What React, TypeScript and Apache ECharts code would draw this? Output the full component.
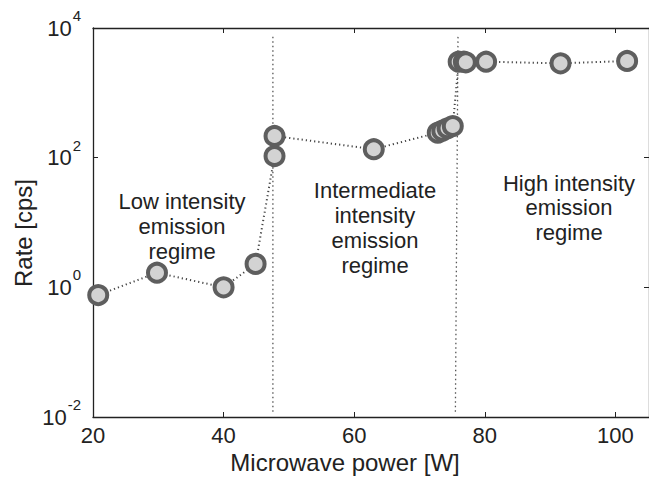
import React, { useEffect, useRef } from "react";
import * as echarts from "echarts";

// Microwave power [W] and count rate [cps]
const powerW = [20.8, 29.8, 40.0, 44.9, 47.8, 47.8, 63.0, 72.8, 73.5, 74.3, 75.1, 76.0, 76.8, 77.1, 80.2, 91.6, 101.8];
const rateCps = [0.76, 1.68, 1.0, 2.3, 106, 216, 135, 243, 261, 284, 308, 3020, 3020, 2960, 3020, 2850, 3100];

// regime boundaries (dotted vertical lines)
const boundary1X = [47.55, 47.55];
const boundary2X = [75.5, 75.9];
const boundaryY = [0.012, 8000];

const xTicks = [20, 40, 60, 80, 100];
const yTickExponents = [-2, 0, 2, 4];

const regimeLabels = [
  "Low intensity\nemission\nregime",
  "Intermediate\nintensity\nemission\nregime",
  "High intensity\nemission\nregime",
];

const FONT = "'Liberation Sans', Arial, Helvetica, sans-serif";

export default function App() {
  const ref = useRef<HTMLDivElement>(null);
  useEffect(() => {
    if (!ref.current) return;
    const chart = echarts.init(ref.current, null, { renderer: "svg" });
    const xMin = xTicks[0];
    const xMax = 105.15;
    const yMin = Math.pow(10, yTickExponents[0]);
    const yMax = Math.pow(10, yTickExponents[yTickExponents.length - 1]);
    const textColor = "#222";
    const axisCommon = {
      axisLine: { show: true, lineStyle: { color: "#222", width: 1.3 } },
      axisTick: { show: true, inside: true, length: 5, lineStyle: { color: "#222", width: 1 } },
      splitLine: { show: false },
      minorTick: { show: false },
    };
    const yFormatter = (v: number) => {
      const e = Math.round(Math.log10(v));
      return `{b|10}{s|${e}}`;
    };
    chart.setOption({
      animation: false,
      grid: { left: 93, right: -1, top: 28, bottom: 60 },
      xAxis: [
        {
          type: "value",
          min: xMin,
          max: xMax,
          interval: 20,
          position: "bottom",
          ...axisCommon,
          axisLabel: {
            show: true,
            margin: 7,
            color: textColor,
            fontFamily: FONT,
            fontSize: 22,
            showMaxLabel: false,
          },
        },
        {
          type: "value",
          min: xMin,
          max: xMax,
          interval: 20,
          position: "top",
          ...axisCommon,
          axisLabel: { show: false },
        },
      ],
      yAxis: [
        {
          type: "log",
          logBase: 10,
          min: yMin,
          max: yMax,
          interval: 2,
          position: "left",
          ...axisCommon,
          axisLabel: {
            show: true,
            margin: 12,
            color: textColor,
            fontFamily: FONT,
            formatter: yFormatter,
            rich: {
              b: { fontSize: 22, fontFamily: FONT, color: textColor, verticalAlign: "bottom", padding: [9, 0, 0, 0] },
              s: { fontSize: 15, fontFamily: FONT, color: textColor, verticalAlign: "top", padding: [0, 0, 0, 1] },
            },
            padding: [0, 0, 9, 0],
          },
        },
        {
          type: "log",
          logBase: 10,
          min: yMin,
          max: yMax,
          interval: 2,
          position: "right",
          ...axisCommon,
          axisLabel: { show: false },
        },
      ],
      series: [
        {
          type: "line",
          data: boundary1X.map((x, i) => [x, boundaryY[i]]),
          symbol: "none",
          lineStyle: { color: "#555", width: 1.3, type: [1.5, 3] },
          silent: true,
          z: 1,
        },
        {
          type: "line",
          data: boundary2X.map((x, i) => [x, boundaryY[i]]),
          symbol: "none",
          lineStyle: { color: "#555", width: 1.3, type: [1.5, 3] },
          silent: true,
          z: 1,
        },
        {
          type: "line",
          data: powerW.map((x, i) => [x, rateCps[i]]),
          symbol: "circle",
          symbolSize: 18,
          itemStyle: { color: "#d3d3d3", borderColor: "#5e5e5e", borderWidth: 4 },
          lineStyle: { color: "#444", width: 2, type: [1.2, 3] },
          z: 3,
        },
      ],
      graphic: [
        {
          type: "text",
          x: 182,
          y: 189,
          style: {
            text: regimeLabels[0],
            fontFamily: FONT,
            fontSize: 22,
            lineHeight: 25,
            fill: textColor,
            align: "center",
            verticalAlign: "top",
          },
        },
        {
          type: "text",
          x: 375,
          y: 178,
          style: {
            text: regimeLabels[1],
            fontFamily: FONT,
            fontSize: 22,
            lineHeight: 25,
            fill: textColor,
            align: "center",
            verticalAlign: "top",
          },
        },
        {
          type: "text",
          x: 569,
          y: 171,
          style: {
            text: regimeLabels[2],
            fontFamily: FONT,
            fontSize: 22,
            lineHeight: 24.5,
            fill: textColor,
            align: "center",
            verticalAlign: "top",
          },
        },
        {
          type: "text",
          x: 345,
          y: 462,
          style: {
            text: "Microwave power [W]",
            fontFamily: FONT,
            fontSize: 24,
            fill: textColor,
            align: "center",
            verticalAlign: "middle",
          },
        },
        {
          type: "text",
          x: 23,
          y: 233,
          rotation: Math.PI / 2,
          style: {
            text: "Rate [cps]",
            fontFamily: FONT,
            fontSize: 24,
            fill: textColor,
            align: "center",
            verticalAlign: "middle",
          },
        },
      ],
    });
    return () => chart.dispose();
  }, []);
  return <div ref={ref} style={{ width: 649, height: 477, position: "absolute", left: 0, top: 0, background: "#fff" }} />;
}
